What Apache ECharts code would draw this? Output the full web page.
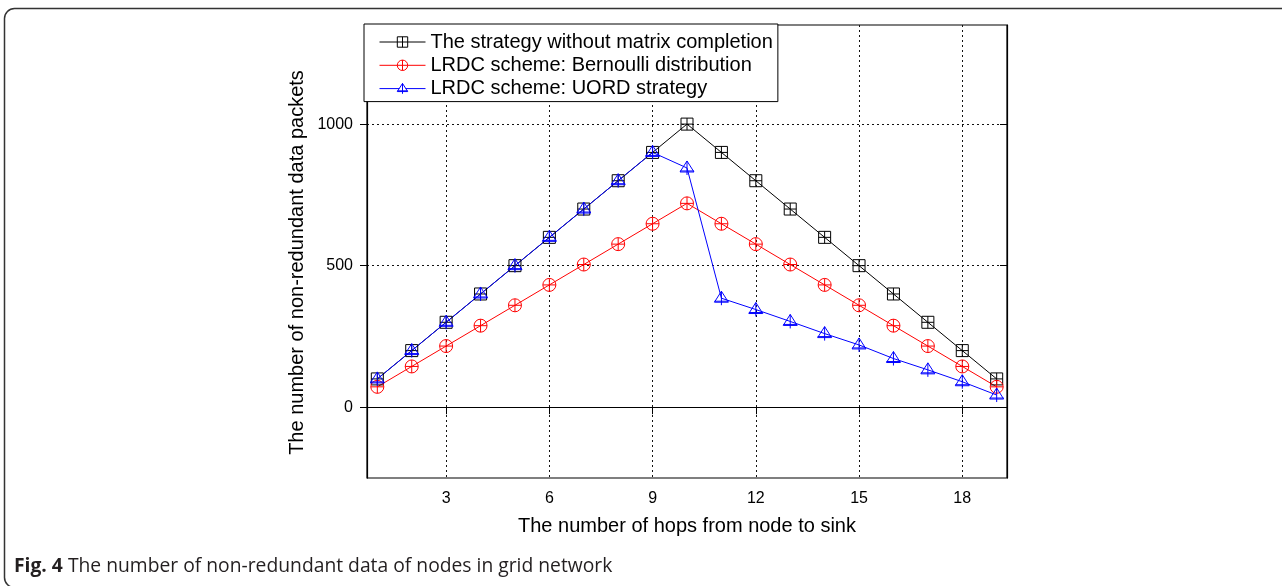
<!DOCTYPE html>
<html><head><meta charset="utf-8">
<script src="https://cdn.jsdelivr.net/npm/echarts@6/dist/echarts.min.js"></script>
<style>html,body{margin:0;padding:0;background:#fff}#c{width:1282px;height:586px}</style>
</head><body><div id="c"></div>
<script>
const hops = [1,2,3,4,5,6,7,8,9,10,11,12,13,14,15,16,17,18,19];
const withoutMC = [100,200,300,400,500,600,700,800,900,1000,900,800,700,600,500,400,300,200,100];
const bernoulli = [72,144,216,288,360,432,504,576,648,720,648,576,504,432,360,288,216,144,72];
const uord = [100,200,300,400,500,600,700,800,900,845,385,345,303,260,220,172,132,90,43];
const xTicks = [3,6,9,12,15,18];
const yTicks = [0,500,1000];
const seriesNames = ['The strategy without matrix completion','LRDC scheme: Bernoulli distribution','LRDC scheme: UORD strategy'];
const xName = 'The number of hops from node to sink';
const yName = 'The number of non-redundant data packets';

const FONT = 'Liberation Sans, Arial, Helvetica, sans-serif';
const sq = 'path://M0,0L12,0L12,12L0,12Z M6,0L6,12 M0,6L12,6';
const circ = 'path://M0,6A6,6,0,1,1,12,6A6,6,0,1,1,0,6Z M6,0L6,12 M0,6L12,6';
const tri = 'path://M7,0L14,11L0,11Z M7,0L7,14 M0,10L14,10';

function pairs(v){ return hops.map((h,i)=>[h, v[i]]); }
function mk(name, data, color, symbol, size){
  return {
    name, type:'line', data: pairs(data), symbol, symbolSize:size,
    lineStyle:{color, width:1}, itemStyle:{color:'rgba(0,0,0,0)', borderColor:color, borderWidth:1},
    emphasis:{disabled:true}, animation:false
  };
}
const chart = echarts.init(document.getElementById('c'), null, {renderer:'canvas'});
chart.setOption({
  animation:false,
  color:['#000','#ff0000','#0000ff'],
  grid:{left:367, right:275, top:25, bottom:108, show:true, borderColor:'#000', borderWidth:1.2, backgroundColor:'transparent'},
  legend:{
    orient:'vertical', left:364, top:24, itemWidth:46, itemHeight:13, itemGap:3.3,
    padding:[8,5,3,15], borderColor:'#000', borderWidth:1, backgroundColor:'#fff', borderRadius:0,
    textStyle:{fontSize:20, lineHeight:20, color:'#000', fontFamily:FONT},
    itemStyle:{color:'#fff', borderWidth:1},
    lineStyle:{width:1},
    data: seriesNames
  },
  xAxis:{
    type:'value', min:0.7, max:19.3,
    axisLine:{show:true, lineStyle:{color:'#000', width:1.2}},
    axisTick:{show:true, customValues:xTicks, inside:false, length:7, lineStyle:{color:'#000'}},
    axisLabel:{customValues:xTicks, fontSize:16, color:'#000', margin:13, fontFamily:FONT},
    splitLine:{show:true, lineStyle:{color:'#111', type:[2,3], width:1}},
    name:xName, nameLocation:'middle', nameGap:38,
    nameTextStyle:{fontSize:20, color:'#000', fontFamily:FONT}
  },
  yAxis:[{
    type:'value', min:-250, max:1350, position:'left',
    axisLine:{show:true, lineStyle:{color:'#000', width:1.2}},
    axisTick:{show:true, customValues:yTicks, inside:false, length:7, lineStyle:{color:'#000'}},
    axisLabel:{customValues:yTicks, fontSize:16, color:'#000', margin:14, fontFamily:FONT, formatter:(v)=>String(v)},
    splitLine:{show:true, lineStyle:{color:'#111', type:[2,3], width:1}},
    name:yName, nameLocation:'middle', nameGap:60,
    nameTextStyle:{fontSize:20, color:'#000', fontFamily:FONT, padding:[0,22,0,0]}
  },{
    type:'value', min:-250, max:1350, position:'right',
    axisLine:{show:true, lineStyle:{color:'#000', width:1.2}},
    axisTick:{show:true, customValues:yTicks, inside:true, length:7, lineStyle:{color:'#000'}},
    axisLabel:{show:false}, splitLine:{show:false}
  }],
  series:[
    mk(seriesNames[0], withoutMC, '#000000', sq, [12,12]),
    mk(seriesNames[1], bernoulli, '#ff0000', circ, [13,13]),
    mk(seriesNames[2], uord, '#0000ff', tri, [14,14])
  ],
  graphic:[
    {type:'rect', silent:true, z:-10, shape:{x:4.5, y:8.5, width:1300, height:579, r:10},
     style:{fill:'none', stroke:'#333', lineWidth:1.5}},
    {type:'text', left:14, top:557, silent:true,
     style:{text:'{b|Fig. 4} The number of non-redundant data of nodes in grid network',
       font:'19.3px "Open Sans", sans-serif', fill:'#231f20',
       rich:{b:{fontWeight:'bold', fontSize:19.3, fontFamily:'Open Sans', fill:'#231f20'}}}}
  ]
});
</script></body></html>
